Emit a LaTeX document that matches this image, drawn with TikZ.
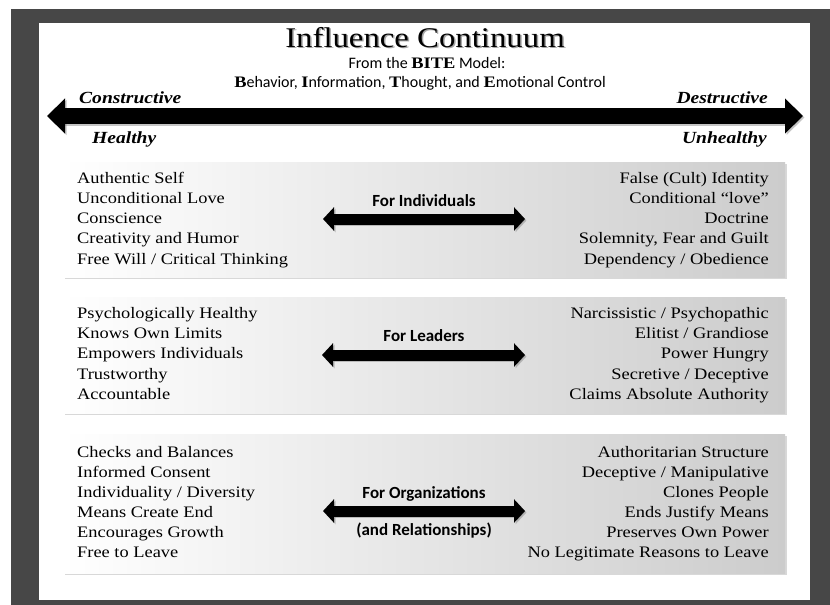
\documentclass[tikz,border=0pt]{standalone}
\usepackage{fontspec}
\setmainfont{Liberation Serif}[FakeStretch=1.15]
\newfontfamily\carlito{Carlito}
\usetikzlibrary{arrows.meta,shadows}
\definecolor{frame}{RGB}{71,71,71}
\newcommand\biteletter[1]{{\rmfamily\bfseries #1}}
\begin{document}
\begin{tikzpicture}[x=1pt, y=-1pt,
panel/.style={inner sep=0, minimum width=722pt, left color=white, right color=black!20,
  drop shadow={shadow xshift=1.5pt, shadow yshift=-1.5pt, opacity=.3}},
good/.style={anchor=base west, inner sep=0, font=\fontsize{16}{19}\selectfont},
bad/.style={anchor=base east, inner sep=0, font=\fontsize{16}{19}\selectfont},
pole/.style={inner sep=0, font=\fontsize{17}{20}\selectfont\bfseries\itshape},
mid/.style={anchor=base, inner sep=0, font=\carlito\bfseries\fontsize{17}{20}\selectfont},
bigarrow/.style={line width=16pt, {Triangle[width=34pt,length=18pt]}-{Triangle[width=34pt,length=18pt]}},
smallarrow/.style={line width=11pt, {Triangle[width=23pt,length=11pt]}-{Triangle[width=23pt,length=11pt]}},
arrowshadow/.style={black!45, opacity=.5, transform canvas={shift={(1.5pt,-1.5pt)}}}]
\useasboundingbox (0,0) rectangle (830,605);
\fill[frame] (11,9) rectangle (830,605);
\fill[white] (39,23) rectangle (810,600);

\node[anchor=base, inner sep=0, black!35, font=\fontsize{28.5}{33}\selectfont] (titleshadow) at (426.5,48.5) {Influence Continuum};
\node[anchor=base, inner sep=0, font=\fontsize{28.5}{33}\selectfont] (title) at (425,47) {Influence Continuum};
\node[anchor=base, inner sep=0, font=\carlito\fontsize{16}{19}\selectfont] (sub) at (427,68)
  {From the {\rmfamily\bfseries BITE} Model:};
\node[anchor=base, inner sep=0, font=\carlito\fontsize{16}{19}\selectfont] (bite) at (420,87)
  {\biteletter{B}ehavior, \biteletter{I}nformation, \biteletter{T}hought, and \biteletter{E}motional Control};

\coordinate (cl) at (47,116);
\coordinate (dr) at (803,116);
\draw[bigarrow, arrowshadow] (cl) -- (dr);
\draw[bigarrow] (cl) -- (dr);
\node[pole, anchor=base west] (constr) at (79,103) {Constructive};
\node[pole, anchor=base west] (healthy) at (92,143) {Healthy};
\node[pole, anchor=base east] (destr) at (768,103) {Destructive};
\node[pole, anchor=base east] (unhealthy) at (767,143) {Unhealthy};

\node[panel, minimum height=115pt] (indiv) at (424,219.5) {};
\node[panel, minimum height=116pt] (lead) at (424,355) {};
\node[panel, minimum height=139pt] (org) at (424,503.5) {};

\foreach \t [count=\i from 0] in {Authentic Self, Unconditional Love, Conscience, Creativity and Humor, Free Will / Critical Thinking}
  \node[good] (indiv-l\i) at (77,183+20.3*\i) {\t};
\foreach \t [count=\i from 0] in {False (Cult) Identity, Conditional “love”, Doctrine, {Solemnity, Fear and Guilt}, Dependency / Obedience}
  \node[bad] (indiv-r\i) at (769,183+20.3*\i) {\t};
\node[mid] (forind) at (424,206) {For Individuals};
\coordinate (ind-a) at (323,219);
\coordinate (ind-b) at (525,219);
\draw[smallarrow, arrowshadow] (ind-a) -- (ind-b);
\draw[smallarrow] (ind-a) -- (ind-b);

\foreach \t [count=\i from 0] in {Psychologically Healthy, Knows Own Limits, Empowers Individuals, Trustworthy, Accountable}
  \node[good] (lead-l\i) at (77,318+20.4*\i) {\t};
\foreach \t [count=\i from 0] in {Narcissistic / Psychopathic, Elitist / Grandiose, Power Hungry, Secretive / Deceptive, Claims Absolute Authority}
  \node[bad] (lead-r\i) at (769,318+20.4*\i) {\t};
\node[mid] (forlead) at (424,341) {For Leaders};
\coordinate (lead-a) at (322,355);
\coordinate (lead-b) at (525,355);
\draw[smallarrow, arrowshadow] (lead-a) -- (lead-b);
\draw[smallarrow] (lead-a) -- (lead-b);

\foreach \t [count=\i from 0] in {Checks and Balances, Informed Consent, Individuality / Diversity, Means Create End, Encourages Growth, Free to Leave}
  \node[good] (org-l\i) at (77,457+20*\i) {\t};
\foreach \t [count=\i from 0] in {Authoritarian Structure, Deceptive / Manipulative, Clones People, Ends Justify Means, Preserves Own Power, No Legitimate Reasons to Leave}
  \node[bad] (org-r\i) at (769,457+20*\i) {\t};
\node[mid] (fororg) at (424,498) {For Organizations};
\node[mid] (relations) at (424,535) {(and Relationships)};
\coordinate (org-a) at (323,511);
\coordinate (org-b) at (525,511);
\draw[smallarrow, arrowshadow] (org-a) -- (org-b);
\draw[smallarrow] (org-a) -- (org-b);
\end{tikzpicture}
\end{document}
